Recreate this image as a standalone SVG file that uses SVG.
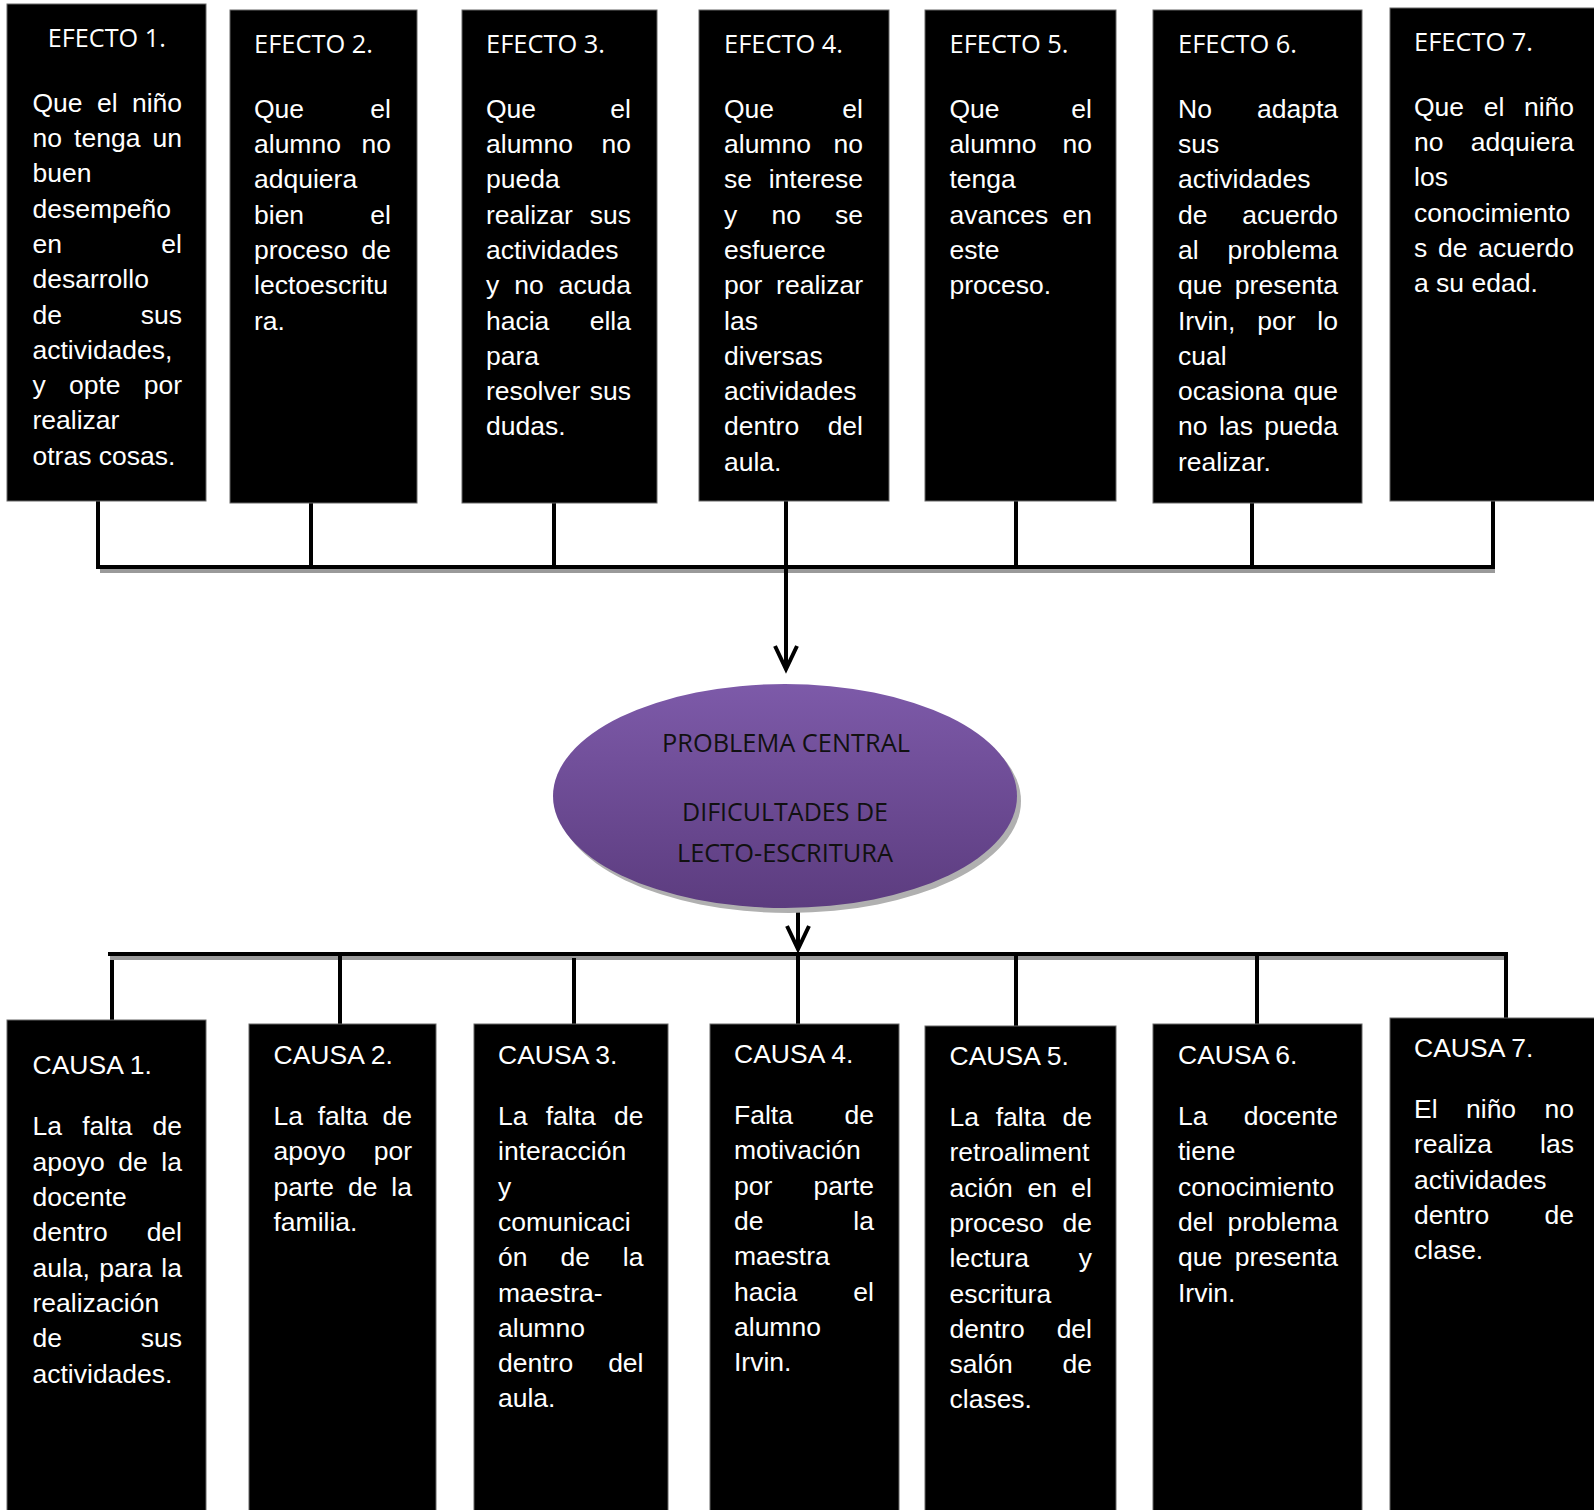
<svg xmlns="http://www.w3.org/2000/svg" width="1594" height="1510" viewBox="0 0 1594 1510">
<style>
.box{fill:#000;stroke:#666;stroke-width:1}
.b{font-family:"Liberation Sans",Arial,sans-serif;font-size:26.5px;fill:#fff}
.h{font-family:"Open Sans","Liberation Sans",sans-serif;font-size:26px;fill:#fff}
.e{font-family:"Open Sans","Liberation Sans",sans-serif;font-size:26px;fill:#111;text-anchor:middle}
.r{text-anchor:end}
.ln{stroke:#000;stroke-width:4;fill:none}
.sh{stroke:#9a9a9a;stroke-width:4;fill:none}
</style>
<defs>
<linearGradient id="pg" x1="0" y1="0" x2="0" y2="1">
<stop offset="0" stop-color="#7d5aa9"/>
<stop offset="1" stop-color="#5c3c7f"/>
</linearGradient>
<marker id="arr" markerUnits="userSpaceOnUse" markerWidth="30" markerHeight="30" refX="24" refY="12" orient="auto" overflow="visible">
<path d="M1,1 L24,12 L1,23" fill="none" stroke="#000" stroke-width="4"/>
</marker>
</defs>
<rect width="1594" height="1510" fill="#fff"/>

<g id="connectors">
<line class="sh" x1="100" y1="571" x2="1495" y2="571"/>
<line class="ln" x1="98" y1="501" x2="98" y2="567"/>
<line class="ln" x1="311" y1="503" x2="311" y2="567"/>
<line class="ln" x1="554" y1="503" x2="554" y2="567"/>
<line class="ln" x1="1016" y1="501" x2="1016" y2="567"/>
<line class="ln" x1="1252" y1="503" x2="1252" y2="567"/>
<line class="ln" x1="1493" y1="501" x2="1493" y2="567"/>
<line class="ln" x1="96" y1="567" x2="1495" y2="567"/>
<line class="ln" x1="786" y1="501" x2="786" y2="669" marker-end="url(#arr)"/>
<line class="ln" x1="798" y1="908" x2="798" y2="949" marker-end="url(#arr)"/>
<line class="sh" x1="110" y1="958" x2="1507" y2="958"/>
<line class="ln" x1="108" y1="954" x2="1508" y2="954"/>
<line class="ln" x1="112" y1="960" x2="112" y2="1020"/>
<line class="ln" x1="340" y1="954" x2="340" y2="1024"/>
<line class="ln" x1="574" y1="958" x2="574" y2="1024"/>
<line class="ln" x1="798" y1="954" x2="798" y2="1024"/>
<line class="ln" x1="1016" y1="954" x2="1016" y2="1026"/>
<line class="ln" x1="1257" y1="954" x2="1257" y2="1024"/>
<line class="ln" x1="1506" y1="952" x2="1506" y2="1018"/>
</g>

<g id="efecto1">
<rect class="box" x="7" y="4" width="199" height="497"/>
<text class="h" x="47.8" y="47" textLength="118" lengthAdjust="spacingAndGlyphs">EFECTO 1.</text>
<text class="b" y="111.7"><tspan x="32.5">Que</tspan><tspan x="97">el</tspan><tspan x="182" class="r">niño</tspan></text>
<text class="b" y="147"><tspan x="32.5">no</tspan><tspan x="74.1">tenga</tspan><tspan x="182" class="r">un</tspan></text>
<text class="b" x="32.5" y="182.3">buen</text>
<text class="b" x="32.5" y="217.6">desempeño</text>
<text class="b" y="252.9"><tspan x="32.5">en</tspan><tspan x="182" class="r">el</tspan></text>
<text class="b" x="32.5" y="288.2">desarrollo</text>
<text class="b" y="323.5"><tspan x="32.5">de</tspan><tspan x="182" class="r">sus</tspan></text>
<text class="b" x="32.5" y="358.8">actividades,</text>
<text class="b" y="394.1"><tspan x="32.5">y</tspan><tspan x="69">opte</tspan><tspan x="182" class="r">por</tspan></text>
<text class="b" x="32.5" y="429.4">realizar</text>
<text class="b" x="32.5" y="464.7">otras cosas.</text>
</g>

<g id="efecto2">
<rect class="box" x="230" y="10" width="187" height="493"/>
<text class="h" x="254" y="53" textLength="119" lengthAdjust="spacingAndGlyphs">EFECTO 2.</text>
<text class="b" y="117.7"><tspan x="254">Que</tspan><tspan x="391" class="r">el</tspan></text>
<text class="b" y="153"><tspan x="254">alumno</tspan><tspan x="391" class="r">no</tspan></text>
<text class="b" x="254" y="188.3">adquiera</text>
<text class="b" y="223.6"><tspan x="254">bien</tspan><tspan x="391" class="r">el</tspan></text>
<text class="b" y="258.9"><tspan x="254">proceso</tspan><tspan x="391" class="r">de</tspan></text>
<text class="b" x="254" y="294.2">lectoescritu</text>
<text class="b" x="254" y="329.5">ra.</text>
</g>

<g id="efecto3">
<rect class="box" x="462" y="10" width="195" height="493"/>
<text class="h" x="486" y="53" textLength="119" lengthAdjust="spacingAndGlyphs">EFECTO 3.</text>
<text class="b" y="117.7"><tspan x="486">Que</tspan><tspan x="631" class="r">el</tspan></text>
<text class="b" y="153"><tspan x="486">alumno</tspan><tspan x="631" class="r">no</tspan></text>
<text class="b" x="486" y="188.3">pueda</text>
<text class="b" y="223.6"><tspan x="486">realizar</tspan><tspan x="631" class="r">sus</tspan></text>
<text class="b" x="486" y="258.9">actividades</text>
<text class="b" y="294.2"><tspan x="486">y</tspan><tspan x="514.3">no</tspan><tspan x="631" class="r">acuda</tspan></text>
<text class="b" y="329.5"><tspan x="486">hacia</tspan><tspan x="631" class="r">ella</tspan></text>
<text class="b" x="486" y="364.8">para</text>
<text class="b" y="400.1"><tspan x="486">resolver</tspan><tspan x="631" class="r">sus</tspan></text>
<text class="b" x="486" y="435.4">dudas.</text>
</g>

<g id="efecto4">
<rect class="box" x="699" y="10" width="190" height="491"/>
<text class="h" x="724" y="53" textLength="119" lengthAdjust="spacingAndGlyphs">EFECTO 4.</text>
<text class="b" y="117.7"><tspan x="724">Que</tspan><tspan x="863" class="r">el</tspan></text>
<text class="b" y="153"><tspan x="724">alumno</tspan><tspan x="863" class="r">no</tspan></text>
<text class="b" y="188.3"><tspan x="724">se</tspan><tspan x="863" class="r">interese</tspan></text>
<text class="b" y="223.6"><tspan x="724">y</tspan><tspan x="771.4">no</tspan><tspan x="863" class="r">se</tspan></text>
<text class="b" x="724" y="258.9">esfuerce</text>
<text class="b" y="294.2"><tspan x="724">por</tspan><tspan x="863" class="r">realizar</tspan></text>
<text class="b" x="724" y="329.5">las</text>
<text class="b" x="724" y="364.8">diversas</text>
<text class="b" x="724" y="400.1">actividades</text>
<text class="b" y="435.4"><tspan x="724">dentro</tspan><tspan x="863" class="r">del</tspan></text>
<text class="b" x="724" y="470.7">aula.</text>
</g>

<g id="efecto5">
<rect class="box" x="925" y="10" width="191" height="491"/>
<text class="h" x="949.5" y="53" textLength="119" lengthAdjust="spacingAndGlyphs">EFECTO 5.</text>
<text class="b" y="117.7"><tspan x="949.5">Que</tspan><tspan x="1092" class="r">el</tspan></text>
<text class="b" y="153"><tspan x="949.5">alumno</tspan><tspan x="1092" class="r">no</tspan></text>
<text class="b" x="949.5" y="188.3">tenga</text>
<text class="b" y="223.6"><tspan x="949.5">avances</tspan><tspan x="1092" class="r">en</tspan></text>
<text class="b" x="949.5" y="258.9">este</text>
<text class="b" x="949.5" y="294.2">proceso.</text>
</g>

<g id="efecto6">
<rect class="box" x="1153" y="10" width="209" height="493"/>
<text class="h" x="1178" y="53" textLength="119" lengthAdjust="spacingAndGlyphs">EFECTO 6.</text>
<text class="b" y="117.7"><tspan x="1178">No</tspan><tspan x="1338" class="r">adapta</tspan></text>
<text class="b" x="1178" y="153">sus</text>
<text class="b" x="1178" y="188.3">actividades</text>
<text class="b" y="223.6"><tspan x="1178">de</tspan><tspan x="1338" class="r">acuerdo</tspan></text>
<text class="b" y="258.9"><tspan x="1178">al</tspan><tspan x="1338" class="r">problema</tspan></text>
<text class="b" y="294.2"><tspan x="1178">que</tspan><tspan x="1338" class="r">presenta</tspan></text>
<text class="b" y="329.5"><tspan x="1178">Irvin,</tspan><tspan x="1257.3">por</tspan><tspan x="1338" class="r">lo</tspan></text>
<text class="b" x="1178" y="364.8">cual</text>
<text class="b" y="400.1"><tspan x="1178">ocasiona</tspan><tspan x="1338" class="r">que</tspan></text>
<text class="b" y="435.4"><tspan x="1178">no</tspan><tspan x="1219">las</tspan><tspan x="1338" class="r">pueda</tspan></text>
<text class="b" x="1178" y="470.7">realizar.</text>
</g>

<g id="efecto7">
<rect class="box" x="1390" y="8" width="210" height="493"/>
<text class="h" x="1414" y="51" textLength="119" lengthAdjust="spacingAndGlyphs">EFECTO 7.</text>
<text class="b" y="115.7"><tspan x="1414">Que</tspan><tspan x="1483.7">el</tspan><tspan x="1574" class="r">niño</tspan></text>
<text class="b" y="151"><tspan x="1414">no</tspan><tspan x="1574" class="r">adquiera</tspan></text>
<text class="b" x="1414" y="186.3">los</text>
<text class="b" x="1414" y="221.6">conocimiento</text>
<text class="b" y="256.9"><tspan x="1414">s</tspan><tspan x="1438">de</tspan><tspan x="1574" class="r">acuerdo</tspan></text>
<text class="b" x="1414" y="292.2">a su edad.</text>
</g>

<g id="problema">
<ellipse cx="789" cy="801" rx="232" ry="112" fill="#b0b0b0"/>
<ellipse cx="785" cy="796" rx="232" ry="112" fill="url(#pg)"/>
<text class="e" x="786" y="752" textLength="248" lengthAdjust="spacingAndGlyphs">PROBLEMA CENTRAL</text>
<text class="e" x="785" y="821" textLength="206" lengthAdjust="spacingAndGlyphs">DIFICULTADES DE</text>
<text class="e" x="785" y="862" textLength="216" lengthAdjust="spacingAndGlyphs">LECTO-ESCRITURA</text>
</g>

<g id="causa1">
<rect class="box" x="7" y="1020" width="199" height="500"/>
<text class="b" x="32.5" y="1074">CAUSA 1.</text>
<text class="b" y="1135.4"><tspan x="32.5">La</tspan><tspan x="82.2">falta</tspan><tspan x="182" class="r">de</tspan></text>
<text class="b" y="1170.7"><tspan x="32.5">apoyo</tspan><tspan x="118.3">de</tspan><tspan x="182" class="r">la</tspan></text>
<text class="b" x="32.5" y="1206">docente</text>
<text class="b" y="1241.3"><tspan x="32.5">dentro</tspan><tspan x="182" class="r">del</tspan></text>
<text class="b" y="1276.6"><tspan x="32.5">aula,</tspan><tspan x="99.2">para</tspan><tspan x="182" class="r">la</tspan></text>
<text class="b" x="32.5" y="1311.9">realización</text>
<text class="b" y="1347.2"><tspan x="32.5">de</tspan><tspan x="182" class="r">sus</tspan></text>
<text class="b" x="32.5" y="1382.5">actividades.</text>
</g>

<g id="causa2">
<rect class="box" x="249" y="1024" width="187" height="500"/>
<text class="b" x="273.5" y="1064">CAUSA 2.</text>
<text class="b" y="1125"><tspan x="273.5">La</tspan><tspan x="317.7">falta</tspan><tspan x="412" class="r">de</tspan></text>
<text class="b" y="1160.3"><tspan x="273.5">apoyo</tspan><tspan x="412" class="r">por</tspan></text>
<text class="b" y="1195.6"><tspan x="273.5">parte</tspan><tspan x="347.9">de</tspan><tspan x="412" class="r">la</tspan></text>
<text class="b" x="273.5" y="1230.9">familia.</text>
</g>

<g id="causa3">
<rect class="box" x="474" y="1024" width="194" height="500"/>
<text class="b" x="498" y="1064">CAUSA 3.</text>
<text class="b" y="1125"><tspan x="498">La</tspan><tspan x="545.7">falta</tspan><tspan x="643.5" class="r">de</tspan></text>
<text class="b" x="498" y="1160.3">interacción</text>
<text class="b" x="498" y="1195.6">y</text>
<text class="b" x="498" y="1230.9">comunicaci</text>
<text class="b" y="1266.2"><tspan x="498">ón</tspan><tspan x="560.5">de</tspan><tspan x="643.5" class="r">la</tspan></text>
<text class="b" x="498" y="1301.5">maestra-</text>
<text class="b" x="498" y="1336.8">alumno</text>
<text class="b" y="1372.1"><tspan x="498">dentro</tspan><tspan x="643.5" class="r">del</tspan></text>
<text class="b" x="498" y="1407.4">aula.</text>
</g>

<g id="causa4">
<rect class="box" x="710" y="1024" width="189" height="500"/>
<text class="b" x="734" y="1063">CAUSA 4.</text>
<text class="b" y="1124"><tspan x="734">Falta</tspan><tspan x="874" class="r">de</tspan></text>
<text class="b" x="734" y="1159.3">motivación</text>
<text class="b" y="1194.6"><tspan x="734">por</tspan><tspan x="874" class="r">parte</tspan></text>
<text class="b" y="1229.9"><tspan x="734">de</tspan><tspan x="874" class="r">la</tspan></text>
<text class="b" x="734" y="1265.2">maestra</text>
<text class="b" y="1300.5"><tspan x="734">hacia</tspan><tspan x="874" class="r">el</tspan></text>
<text class="b" x="734" y="1335.8">alumno</text>
<text class="b" x="734" y="1371.1">Irvin.</text>
</g>

<g id="causa5">
<rect class="box" x="925" y="1026" width="191" height="500"/>
<text class="b" x="949.5" y="1065">CAUSA 5.</text>
<text class="b" y="1126"><tspan x="949.5">La</tspan><tspan x="995.7">falta</tspan><tspan x="1092" class="r">de</tspan></text>
<text class="b" x="949.5" y="1161.3">retroaliment</text>
<text class="b" y="1196.6"><tspan x="949.5">ación</tspan><tspan x="1027.4">en</tspan><tspan x="1092" class="r">el</tspan></text>
<text class="b" y="1231.9"><tspan x="949.5">proceso</tspan><tspan x="1092" class="r">de</tspan></text>
<text class="b" y="1267.2"><tspan x="949.5">lectura</tspan><tspan x="1092" class="r">y</tspan></text>
<text class="b" x="949.5" y="1302.5">escritura</text>
<text class="b" y="1337.8"><tspan x="949.5">dentro</tspan><tspan x="1092" class="r">del</tspan></text>
<text class="b" y="1373.1"><tspan x="949.5">salón</tspan><tspan x="1092" class="r">de</tspan></text>
<text class="b" x="949.5" y="1408.4">clases.</text>
</g>

<g id="causa6">
<rect class="box" x="1153" y="1024" width="209" height="500"/>
<text class="b" x="1178" y="1064">CAUSA 6.</text>
<text class="b" y="1125"><tspan x="1178">La</tspan><tspan x="1338" class="r">docente</tspan></text>
<text class="b" x="1178" y="1160.3">tiene</text>
<text class="b" x="1178" y="1195.6">conocimiento</text>
<text class="b" y="1230.9"><tspan x="1178">del</tspan><tspan x="1338" class="r">problema</tspan></text>
<text class="b" y="1266.2"><tspan x="1178">que</tspan><tspan x="1338" class="r">presenta</tspan></text>
<text class="b" x="1178" y="1301.5">Irvin.</text>
</g>

<g id="causa7">
<rect class="box" x="1390" y="1018" width="210" height="500"/>
<text class="b" x="1414" y="1057">CAUSA 7.</text>
<text class="b" y="1118"><tspan x="1414">El</tspan><tspan x="1466">niño</tspan><tspan x="1574" class="r">no</tspan></text>
<text class="b" y="1153.3"><tspan x="1414">realiza</tspan><tspan x="1574" class="r">las</tspan></text>
<text class="b" x="1414" y="1188.6">actividades</text>
<text class="b" y="1223.9"><tspan x="1414">dentro</tspan><tspan x="1574" class="r">de</tspan></text>
<text class="b" x="1414" y="1259.2">clase.</text>
</g>
</svg>
